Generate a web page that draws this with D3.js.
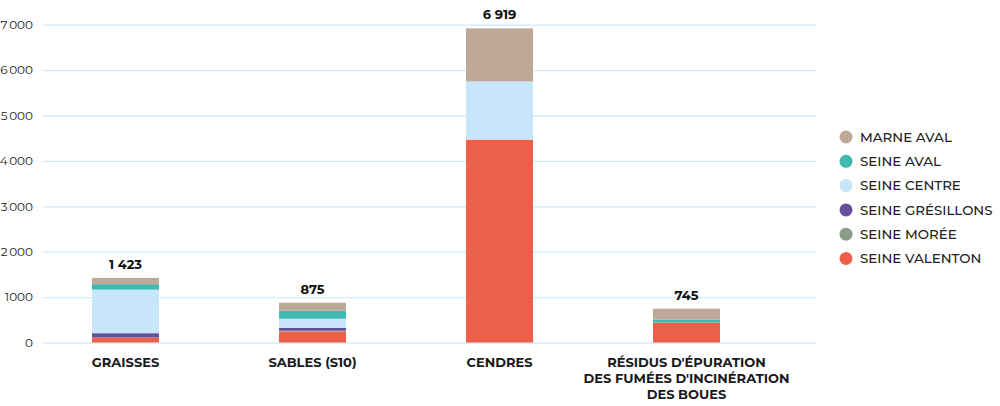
<!DOCTYPE html>
<html><head><meta charset="utf-8">
<script src="https://cdn.jsdelivr.net/npm/d3@7"></script>
<style>body{margin:0;background:#fff}svg{display:block}</style>
</head><body>
<svg id="c" width="1000" height="406"></svg>
<script>
const categories = ["GRAISSES", "SABLES (S10)", "CENDRES", "RÉSIDUS D'ÉPURATION\nDES FUMÉES D'INCINÉRATION\nDES BOUES"];
const totals = [1423, 875, 6919, 745];
const totalLabels = ["1 423", "875", "6 919", "745"];
const seriesNames = ["SEINE VALENTON", "SEINE MORÉE", "SEINE GRÉSILLONS", "SEINE CENTRE", "SEINE AVAL", "MARNE AVAL"];
const seineValenton = [110, 244, 4470, 440];
const seineMoree = [0, 15, 0, 0];
const seineGresillons = [95, 66, 0, 0];
const seineCentre = [960, 198, 1280, 0];
const seineAval = [120, 176, 0, 65];
const marneAval = [138, 176, 1169, 240];
const tickValues = [0, 1000, 2000, 3000, 4000, 5000, 6000, 7000];
const tickLabels = ["0", "1000", "2\u2009000", "3\u2009000", "4\u2009000", "5\u2009000", "6\u2009000", "7\u2009000"];
const colors = ["#ec5f48", "#8a9e88", "#654f9c", "#c8e6f9", "#40b9b1", "#bea898"];
const legendOrder = ["MARNE AVAL", "SEINE AVAL", "SEINE CENTRE", "SEINE GRÉSILLONS", "SEINE MORÉE", "SEINE VALENTON"];

const seriesValues = [seineValenton, seineMoree, seineGresillons, seineCentre, seineAval, marneAval];
const rows = categories.map((c, i) => {
  const r = {cat: c};
  seriesNames.forEach((s, j) => r[s] = seriesValues[j][i]);
  return r;
});
const stack = d3.stack().keys(seriesNames)(rows);

const svg = d3.select("#c");
const font = "Montserrat, Inter, 'Open Sans', sans-serif";
const x = d3.scaleBand().domain(categories).range([32, 780]).paddingInner(0.642).paddingOuter(0.321);
const y = d3.scaleLinear().domain([0, 7000]).range([342.5, 24.7]);
const color = d3.scaleOrdinal().domain(seriesNames).range(colors);

// grid
const yAxis = d3.axisLeft(y).tickValues(tickValues).tickFormat((d, i) => tickLabels[i]).tickSize(-(816 - 43)).tickPadding(10);
const ga = svg.append("g").attr("transform", "translate(43,0)").call(yAxis);
ga.select(".domain").remove();
ga.selectAll(".tick line").attr("stroke", "#d5e9f7").attr("stroke-width", 1.3);
ga.selectAll(".tick text").attr("fill", "#222").attr("font-size", 12).attr("font-family", font);

// bars
svg.append("g").selectAll("g").data(stack).join("g")
  .attr("fill", d => color(d.key))
  .selectAll("rect").data(d => d).join("rect")
  .attr("x", d => x(d.data.cat))
  .attr("width", x.bandwidth())
  .attr("y", d => y(d[1]))
  .attr("height", d => Math.max(0, y(d[0]) - y(d[1])));

// totals
svg.append("g").selectAll("text").data(categories).join("text")
  .attr("x", d => x(d) + x.bandwidth() / 2)
  .attr("y", (d, i) => y(totals[i]) - 9)
  .attr("text-anchor", "middle")
  .attr("font-family", font).attr("font-weight", 700).attr("font-size", 13).attr("fill", "#111")
  .text((d, i) => totalLabels[i]);

// category labels
const cl = svg.append("g").selectAll("text").data(categories).join("text")
  .attr("x", d => x(d) + x.bandwidth() / 2)
  .attr("y", 367)
  .attr("text-anchor", "middle")
  .attr("font-family", font).attr("font-weight", 700).attr("font-size", 13).attr("fill", "#1a1a1a");
cl.each(function(d) {
  const t = d3.select(this);
  d.split("\n").forEach((line, i) => {
    t.append("tspan").attr("x", x(d) + x.bandwidth() / 2).attr("dy", i === 0 ? 0 : 15.8).text(line);
  });
});

// legend
const lg = svg.append("g").selectAll("g").data(legendOrder).join("g")
  .attr("transform", (d, i) => `translate(846,${137 + i * 24.3})`);
lg.append("circle").attr("r", 6.5).attr("fill", d => color(d));
lg.append("text").attr("x", 14).attr("dy", "0.36em")
  .attr("font-family", font).attr("font-weight", 500).attr("font-size", 13.4).attr("fill", "#222").text(d => d);
</script>
</body></html>
